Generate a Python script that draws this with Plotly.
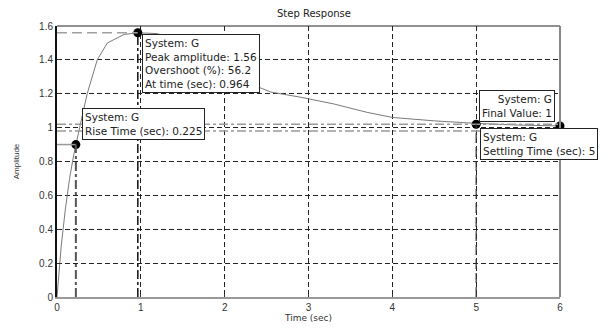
import plotly.graph_objects as go

# Step response samples
time_s = [0, 0.02, 0.05, 0.1, 0.15, 0.2, 0.225, 0.27, 0.36, 0.48, 0.6, 0.8, 0.964,
          1.2, 1.45, 1.7, 1.95, 2.2, 2.55, 2.9, 3.3, 3.7, 4.0, 4.5, 5.0, 5.5, 6.0]
amplitude = [0, 0.12, 0.3, 0.52, 0.7, 0.84, 0.9, 1.0, 1.2, 1.4, 1.5, 1.55, 1.56,
             1.555, 1.5, 1.42, 1.35, 1.28, 1.21, 1.18, 1.14, 1.09, 1.06, 1.04, 1.025, 1.015, 1.01]

rise_time, rise_val = 0.225, 0.9
peak_time, peak_val, overshoot = 0.964, 1.56, 56.2
settle_time, settle_val = 5, 1.02
final_time, final_val = 6, 1.01
band_hi, band_lo = 1.02, 0.98

x_ticks = [0, 1, 2, 3, 4, 5, 6]
y_ticks = [0, 0.2, 0.4, 0.6, 0.8, 1, 1.2, 1.4, 1.6]
y_tick_text = ["0", "0.2", "0.4", "0.6", "0.8", "1", "1.2", "1.4", "1.6"]

FONT = "Liberation Sans, Arial, sans-serif"
WIDE = "DejaVu Sans, sans-serif"

fig = go.Figure()

shapes = []
# settling band lines
for yv in (band_hi, band_lo):
    shapes.append(dict(type="line", xref="x", yref="y", x0=0, x1=6, y0=yv, y1=yv,
                       line=dict(color="#999999", width=1.5, dash="dashdot")))
# peak guides
shapes.append(dict(type="line", xref="x", yref="y", x0=0, x1=peak_time, y0=peak_val, y1=peak_val,
                   line=dict(color="#a0a0a0", width=1.5, dash="10px,5px")))
shapes.append(dict(type="line", xref="x", yref="y", x0=peak_time, x1=peak_time, y0=0, y1=peak_val,
                   line=dict(color="#111111", width=1.5, dash="dashdot")))
# rise guides
shapes.append(dict(type="line", xref="x", yref="y", x0=0, x1=rise_time, y0=rise_val, y1=rise_val,
                   line=dict(color="#999999", width=1.5)))
shapes.append(dict(type="line", xref="x", yref="y", x0=rise_time, x1=rise_time, y0=0, y1=rise_val,
                   line=dict(color="#555555", width=2, dash="dashdot")))
# settling guide
shapes.append(dict(type="line", xref="x", yref="y", x0=settle_time, x1=settle_time, y0=0, y1=settle_val,
                   line=dict(color="#333333", width=1.2, dash="10px,4px")))
# frame top and right
shapes.append(dict(type="line", xref="paper", yref="paper", x0=0, x1=1, y0=1, y1=1,
                   line=dict(color="#222222", width=1)))
shapes.append(dict(type="line", xref="paper", yref="paper", x0=1, x1=1, y0=0, y1=1,
                   line=dict(color="#888888", width=2)))

fig.add_trace(go.Scatter(x=time_s, y=amplitude, mode="lines",
                         line=dict(color="#7a7a7a", width=1), showlegend=False))
fig.add_trace(go.Scatter(x=[rise_time, peak_time, settle_time, final_time],
                         y=[rise_val, peak_val, settle_val, final_val], mode="markers",
                         marker=dict(color="black", size=9), showlegend=False, cliponaxis=False))

box = dict(showarrow=False, bgcolor="white", bordercolor="#222222", borderwidth=1,
           font=dict(family=WIDE, size=10.5, color="#222222"), xref="x", yref="y",
           borderpad=2)
anns = [
    dict(x=1.01, y=1.55, xanchor="left", yanchor="top", align="left",
         text="System: G<br>Peak amplitude: %.2f<br>Overshoot (%%): %.1f<br>At time (sec): %.3f"
              % (peak_val, overshoot, peak_time), **box),
    dict(x=0.30, y=1.115, xanchor="left", yanchor="top", align="left",
         text="System: G<br>Rise Time (sec): %.3f" % rise_time, **box),
    dict(x=5.94, y=1.035, xanchor="right", yanchor="bottom", align="right",
         text="System: G<br>Final Value: 1", **box),
    dict(x=5.05, y=1.0, xanchor="left", yanchor="top", align="left",
         text="System: G<br>Settling Time (sec): %d" % settle_time, **box),
]

fig.update_layout(
    width=600, height=321,
    margin=dict(l=49, r=48, t=18, b=32),
    paper_bgcolor="white", plot_bgcolor="white",
    title=dict(text="Step Response", x=0.51, xanchor="center", y=0.995, yanchor="top",
               font=dict(family=WIDE, size=10, color="#222222")),
    shapes=shapes, annotations=anns,
    font=dict(family=FONT, size=10, color="#333333"),
)
fig.update_xaxes(range=[0, 6], tickvals=x_ticks, ticks="inside", ticklen=3, tickcolor="#333",
                 showgrid=True, gridcolor="#222222", gridwidth=1, griddash="5px,3px",
                 showline=True, linecolor="#999999", linewidth=2, zeroline=False,
                 automargin=False,
                 title=dict(text="Time (sec)", font=dict(family=WIDE, size=9), standoff=2),
                 tickfont=dict(size=10, color="#333"))
fig.update_yaxes(range=[0, 1.6], tickvals=y_ticks, ticktext=y_tick_text, ticks="inside",
                 ticklen=3, tickcolor="#333", automargin=False,
                 showgrid=True, gridcolor="#222222", gridwidth=1, griddash="5px,3px",
                 showline=True, linecolor="#111111", linewidth=2, zeroline=False,
                 title=dict(text="Amplitude", font=dict(size=8), standoff=18),
                 tickfont=dict(size=10, color="#333"))

fig.write_html("out.html")
